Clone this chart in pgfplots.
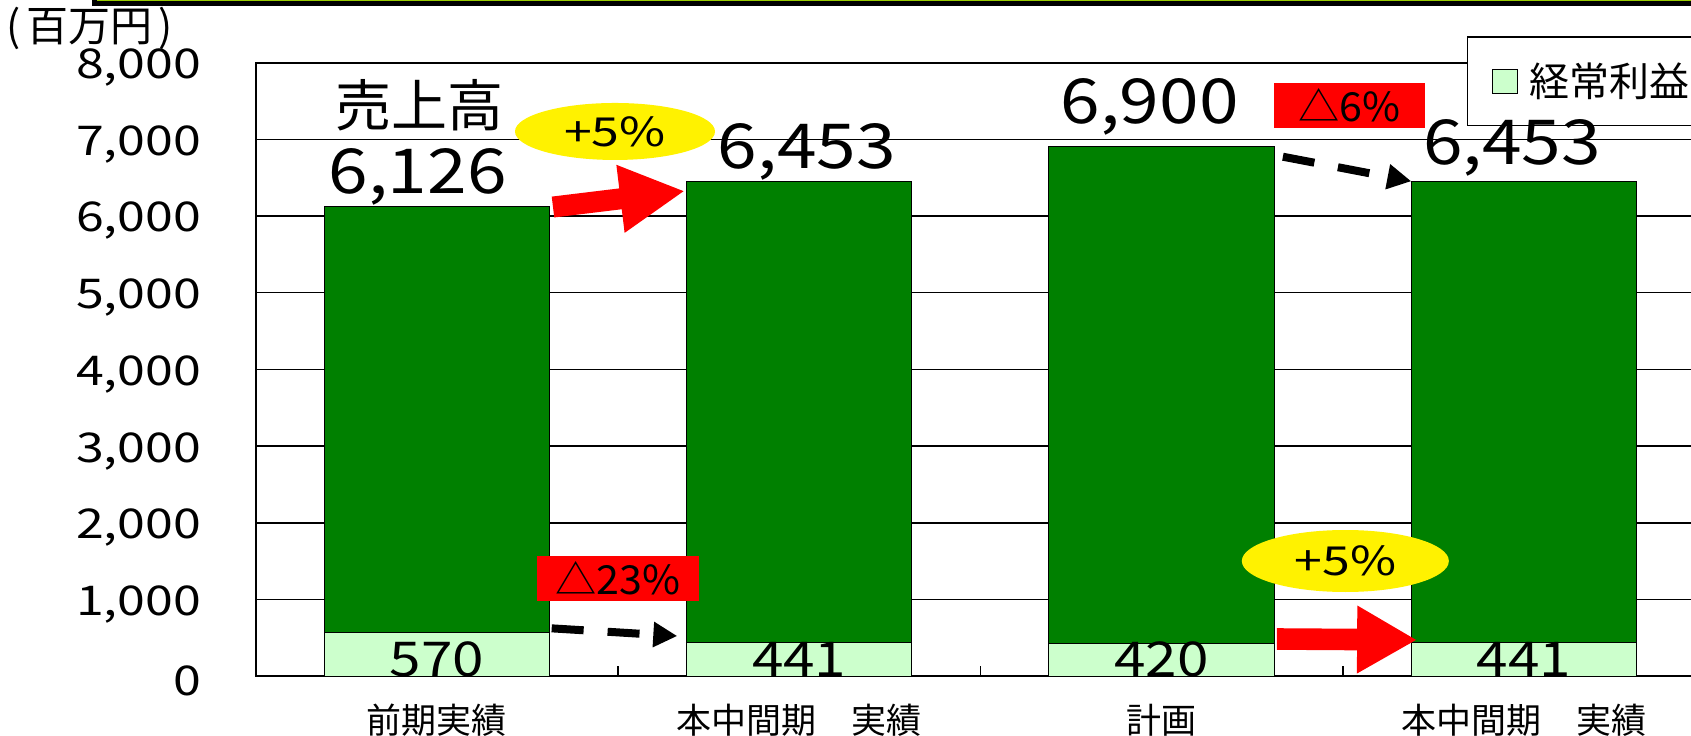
\documentclass[border=0pt]{standalone}
\usepackage{fontspec}
\setmainfont{Noto Sans CJK JP}
\usepackage{graphicx}
\usepackage{pgfplots}
\pgfplotsset{compat=1.18}
\usetikzlibrary{shapes.geometric,arrows.meta}
\definecolor{dkgreen}{RGB}{0,128,0}
\definecolor{ltgreen}{RGB}{204,255,204}
\definecolor{ygreen}{RGB}{153,204,0}
\begin{document}
\begin{tikzpicture}
\draw[line width=2.75pt, fill=ygreen] (47.25pt,365.75pt) rectangle (900pt,400pt);
\node[font=\fontsize{21}{21}\selectfont, inner sep=0pt] at (45pt,353.5pt) {(\hspace{3pt}百万円\hspace{3pt})};
\begin{axis}[
  at={(127.8pt,29.4pt)}, anchor=south west,
  scale only axis, width=724.8pt, height=306.8pt,
  ybar stacked, bar width=0.622,
  xmin=-0.5, xmax=3.5, ymin=0, ymax=8000,
  xtick={0,1,2,3},
  xticklabels={前期実績,本中間期　実績,計画,本中間期　実績},
  minor xtick={0.5,1.5,2.5},
  ytick={0,1000,...,8000},
  yticklabels={0,{1,000},{2,000},{3,000},{4,000},{5,000},{6,000},{7,000},{8,000}},
  major tick length=0pt, minor tick length=5pt, tick align=inside,
  xtick pos=left, ytick pos=left,
  every major x tick/.append style={draw=none},
  every major y tick/.append style={draw=none},
  every minor x tick/.append style={black, line width=0.75pt},
  ymajorgrids, major grid style={black, line width=0.75pt},
  axis line style={black, line width=1pt},
  xticklabel style={font=\fontsize{17.5}{17.5}\selectfont, anchor=center, yshift=-21.8pt},
  yticklabel style={font=\fontsize{20.5}{20.5}\selectfont, anchor=east, inner sep=0pt, xshift=-27pt, yshift=-2.5pt, xscale=1.22},
  clip=false,
  legend style={at={(0.8355,1.0433)}, anchor=north west, draw=black, line width=0.75pt, fill=white,
    font=\fontsize{20}{20}\selectfont, inner xsep=12.5pt, inner ysep=11pt, column sep=4pt},
  legend image code/.code={\draw[fill=ltgreen, draw=black, line width=0.5pt] (0pt,-6pt) rectangle (12pt,6pt);},
]
\addplot[fill=ltgreen, draw=black, line width=0.5pt] coordinates {(0,570) (1,441) (2,420) (3,441)};
\addlegendentry{経常利益}
\addplot[fill=dkgreen, draw=black, line width=0.5pt] coordinates {(0,5556) (1,6012) (2,6480) (3,6012)};

\coordinate (tUri) at (axis cs:-0.049,7447);
\coordinate (tA) at (axis cs:-0.053,6296);
\coordinate (tB) at (axis cs:1.0215,6622);
\coordinate (tC) at (axis cs:1.967,7209);
\coordinate (tD) at (axis cs:2.967,6665);
\coordinate (pA) at (axis cs:0,-10);
\coordinate (pB) at (axis cs:1,-10);
\coordinate (pC) at (axis cs:2,-10);
\coordinate (pD) at (axis cs:3,-10);
\coordinate (e1) at (axis cs:0.4917,7102);
\coordinate (e2) at (axis cs:2.507,1502);
\coordinate (r1) at (axis cs:2.5188,7445);
\coordinate (r2) at (axis cs:0.5,1276);
\coordinate (a1s) at (axis cs:0.3206,6117);
\coordinate (a1e) at (axis cs:0.6849,6326);
\coordinate (a2s) at (axis cs:2.318,485);
\coordinate (a2e) at (axis cs:2.705,473);
\coordinate (d1s) at (axis cs:2.3347,6773);
\coordinate (d1e) at (axis cs:2.689,6453);
\coordinate (d2s) at (axis cs:0.317,624);
\coordinate (d2e) at (axis cs:0.6636,524);
\end{axis}

% sales labels
\node[font=\fontsize{28}{28}\selectfont, inner sep=0pt] at (tUri) {売上高};
\node[font=\fontsize{31}{31}\selectfont, inner sep=0pt, anchor=base] at (tA) {\scalebox{1.15}[1]{6,126}};
\node[font=\fontsize{31}{31}\selectfont, inner sep=0pt, anchor=base] at (tB) {\scalebox{1.15}[1]{6,453}};
\node[font=\fontsize{31}{31}\selectfont, inner sep=0pt, anchor=base] at (tC) {\scalebox{1.15}[1]{6,900}};
\node[font=\fontsize{31}{31}\selectfont, inner sep=0pt, anchor=base] at (tD) {\scalebox{1.15}[1]{6,453}};
% profit labels
\node[font=\fontsize{24}{24}\selectfont, inner sep=0pt, anchor=base] at (pA) {\scalebox{1.18}[1]{570}};
\node[font=\fontsize{24}{24}\selectfont, inner sep=0pt, anchor=base] at (pB) {\scalebox{1.18}[1]{441}};
\node[font=\fontsize{24}{24}\selectfont, inner sep=0pt, anchor=base] at (pC) {\scalebox{1.18}[1]{420}};
\node[font=\fontsize{24}{24}\selectfont, inner sep=0pt, anchor=base] at (pD) {\scalebox{1.18}[1]{441}};

% annotations
\node[ellipse, fill=yellow, minimum width=100pt, minimum height=28.5pt, inner sep=0pt, font=\fontsize{20}{20}\selectfont] at (e1) {\scalebox{1.25}[1]{+5\%}};
\node[ellipse, fill=yellow, minimum width=103.5pt, minimum height=31pt, inner sep=0pt, font=\fontsize{20}{20}\selectfont] at (e2) {\scalebox{1.25}[1]{+5\%}};
\node[fill=red, minimum width=75.5pt, minimum height=22.5pt, inner sep=0pt, font=\fontsize{20}{20}\selectfont] at (r1) {\scalebox{1.03}[1]{△6\%}};
\node[fill=red, minimum width=81.2pt, minimum height=22.4pt, inner sep=0pt, font=\fontsize{20}{20}\selectfont] at (r2) {\scalebox{1.03}[1]{△23\%}};

\draw[red, line width=10.5pt, -{Triangle[length=32.5pt,width=31.7pt]}] (a1s) -- (a1e);
\draw[red, line width=10.8pt, -{Triangle[length=30pt,width=31.7pt]}] (a2s) -- (a2e);
\draw[black, line width=4pt, dash pattern=on 16pt off 12pt, -{Triangle[length=12pt,width=12pt]}] (d1s) -- (d1e);
\draw[black, line width=4pt, dash pattern=on 16pt off 12pt, -{Triangle[length=12pt,width=12pt]}] (d2s) -- (d2e);

\pgfresetboundingbox
\path[use as bounding box] (0,0) rectangle (845.5pt,367.5pt);
\end{tikzpicture}
\end{document}
